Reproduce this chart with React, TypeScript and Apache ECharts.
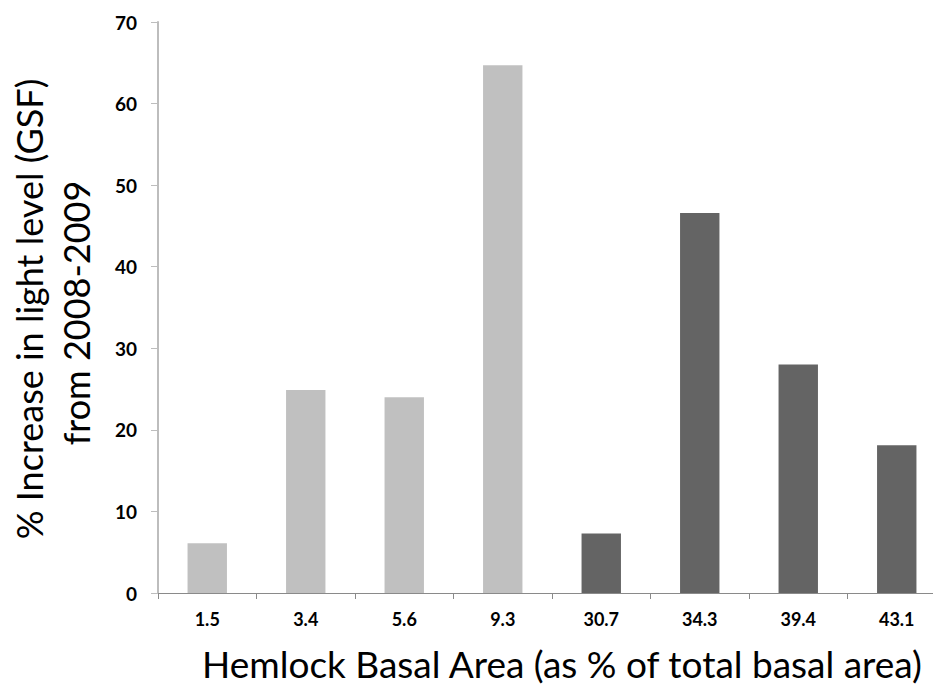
import React, { useEffect, useRef } from "react";
import * as echarts from "echarts";

const categories = ["1.5", "3.4", "5.6", "9.3", "30.7", "34.3", "39.4", "43.1"];
const values = [6.1, 24.9, 24.0, 64.7, 7.3, 46.6, 28.0, 18.1];
const barColors = ["#c0c0c0", "#c0c0c0", "#c0c0c0", "#c0c0c0", "#646464", "#646464", "#646464", "#646464"];
const yTitleLines = ["% Increase in light level (GSF)", "from 2008-2009"];
const xTitle = "Hemlock Basal Area (as % of total basal area)";

const FONT = "Lato, 'Open Sans', sans-serif";

export default function App() {
  const ref = useRef<HTMLDivElement>(null);
  useEffect(() => {
    if (!ref.current) return;
    const chart = echarts.init(ref.current, undefined, { renderer: "svg" });
    chart.setOption({
      animation: false,
      backgroundColor: "#ffffff",
      grid: { left: 158, top: 22, width: 788, height: 571, containLabel: false },
      xAxis: {
        type: "category",
        data: categories,
        axisLine: { show: true, lineStyle: { color: "#8a8a8a", width: 1 } },
        axisTick: { show: true, alignWithLabel: false, length: 6, lineStyle: { color: "#8a8a8a" } },
        axisLabel: { color: "#000", fontFamily: FONT, fontWeight: "bold", fontSize: 18, margin: 17 },
        splitLine: { show: false },
      },
      yAxis: {
        type: "value",
        min: 0,
        max: 70,
        interval: 10,
        axisLine: { show: true, lineStyle: { color: "#bdbdbd", width: 2 } },
        axisTick: { show: true, length: 7, lineStyle: { color: "#bdbdbd" } },
        axisLabel: { color: "#000", fontFamily: FONT, fontWeight: "bold", fontSize: 19, margin: 21 },
        splitLine: { show: false },
      },
      series: [
        {
          type: "bar",
          data: values.map((v, i) => ({ value: v, itemStyle: { color: barColors[i] } })),
          barWidth: "40%",
        },
      ],
      graphic: [
        {
          type: "text",
          x: 29,
          y: 309,
          rotation: Math.PI / 2,
          style: {
            text: yTitleLines[0],
            fontFamily: FONT,
            fontSize: 36,
            fill: "#000",
            textAlign: "center",
            textVerticalAlign: "middle",
          },
        },
        {
          type: "text",
          x: 76,
          y: 313,
          rotation: Math.PI / 2,
          style: {
            text: yTitleLines[1],
            fontFamily: FONT,
            fontSize: 36,
            fill: "#000",
            textAlign: "center",
            textVerticalAlign: "middle",
          },
        },
        {
          type: "text",
          x: 562,
          y: 663,
          style: {
            text: xTitle,
            fontFamily: FONT,
            fontSize: 37,
            fill: "#000",
            textAlign: "center",
            textVerticalAlign: "middle",
          },
        },
      ],
    });
    return () => chart.dispose();
  }, []);
  return (
    <div
      ref={ref}
      style={{ position: "fixed", left: 0, top: 0, width: 960, height: 685 }}
    />
  );
}
